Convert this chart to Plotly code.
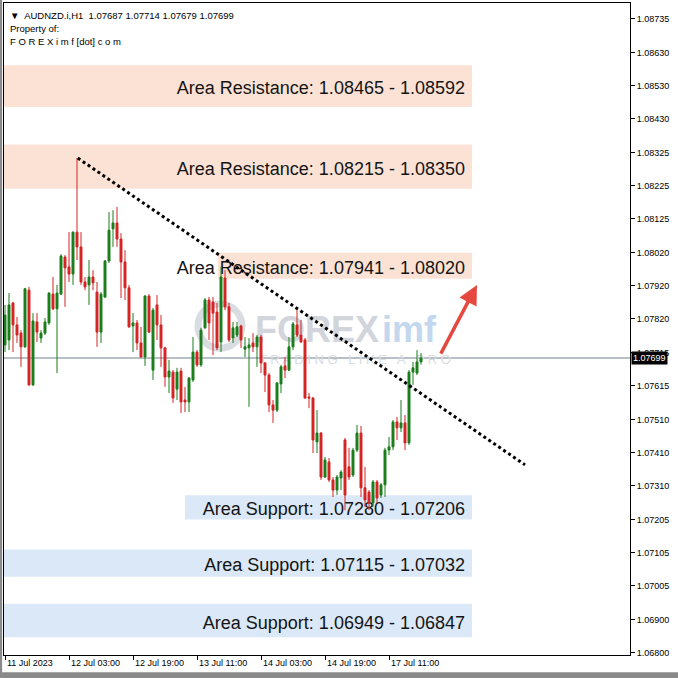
import plotly.graph_objects as go

# ---------------- data ----------------
bars = list(range(105))
opens = [1.07739,1.07754,1.07867,1.07800,1.07775,1.07733,1.07906,1.07617,1.07809,1.07760,
         1.07775,1.07806,1.07894,1.07849,1.07894,1.08007,1.07977,1.07955,1.08083,1.08038,
         1.07931,1.07922,1.07946,1.07900,1.07778,1.07885,1.07995,1.08093,1.08111,1.08062,
         1.07992,1.07913,1.07797,1.07806,1.07745,1.07702,1.07888,1.07662,1.07861,1.07800,
         1.07730,1.07641,1.07656,1.07604,1.07659,1.07571,1.07565,1.07632,1.07717,1.07678,
         1.07791,1.07876,1.07870,1.07839,1.07748,1.07943,1.07855,1.07760,1.07769,1.07797,
         1.07726,1.07730,1.07745,1.07733,1.07763,1.07684,1.07647,1.07556,1.07540,1.07620,
         1.07675,1.07662,1.07733,1.07800,1.07769,1.07754,1.07580,1.07577,1.07443,1.07470,
         1.07336,1.07382,1.07327,1.07296,1.07333,1.07449,1.07367,1.07342,1.07418,1.07470,
         1.07303,1.07290,1.07257,1.07321,1.07281,1.07312,1.07418,1.07428,1.07504,1.07486,
         1.07501,1.07440,1.07656,1.07653,1.07687]
highs = [1.07861,1.07897,1.07870,1.07824,1.07784,1.07913,1.07916,1.07836,1.07836,1.07784,
         1.07821,1.07900,1.07946,1.07922,1.08016,1.08013,1.08083,1.08085,1.08309,1.08083,
         1.07946,1.07998,1.07967,1.07931,1.07900,1.07998,1.08144,1.08150,1.08160,1.08080,
         1.08028,1.07922,1.07836,1.07815,1.07794,1.07891,1.07894,1.07852,1.07891,1.07830,
         1.07733,1.07693,1.07662,1.07669,1.07669,1.07611,1.07641,1.07763,1.07723,1.07791,
         1.07882,1.07885,1.07885,1.07867,1.07977,1.07967,1.07867,1.07809,1.07809,1.07800,
         1.07763,1.07760,1.07775,1.07769,1.07769,1.07687,1.07653,1.07571,1.07626,1.07678,
         1.07702,1.07763,1.07809,1.07852,1.07815,1.07760,1.07592,1.07580,1.07540,1.07473,
         1.07397,1.07394,1.07336,1.07342,1.07357,1.07455,1.07425,1.07425,1.07495,1.07492,
         1.07367,1.07296,1.07327,1.07327,1.07318,1.07425,1.07458,1.07510,1.07519,1.07571,
         1.07525,1.07662,1.07687,1.07723,1.07714]
lows = [1.07717,1.07723,1.07717,1.07745,1.07672,1.07730,1.07614,1.07614,1.07748,1.07745,
        1.07769,1.07800,1.07845,1.07653,1.07891,1.07855,1.07931,1.07922,1.07998,1.07922,
        1.07906,1.07861,1.07906,1.07733,1.07745,1.07882,1.07989,1.08038,1.08038,1.07882,
        1.07876,1.07791,1.07717,1.07723,1.07700,1.07675,1.07775,1.07632,1.07754,1.07672,
        1.07611,1.07592,1.07562,1.07571,1.07531,1.07534,1.07534,1.07626,1.07672,1.07672,
        1.07788,1.07754,1.07708,1.07723,1.07717,1.07845,1.07748,1.07745,1.07763,1.07730,
        1.07702,1.07550,1.07717,1.07672,1.07653,1.07595,1.07534,1.07501,1.07534,1.07592,
        1.07638,1.07659,1.07723,1.07763,1.07745,1.07574,1.07546,1.07409,1.07409,1.07327,
        1.07333,1.07321,1.07275,1.07281,1.07296,1.07235,1.07327,1.07336,1.07412,1.07275,
        1.07245,1.07235,1.07245,1.07257,1.07272,1.07275,1.07403,1.07418,1.07449,1.07473,
        1.07418,1.07434,1.07617,1.07647,1.07679]
closes = [1.07830,1.07861,1.07800,1.07769,1.07733,1.07910,1.07617,1.07812,1.07778,1.07775,
          1.07809,1.07897,1.07849,1.07897,1.08010,1.07974,1.07955,1.08083,1.08038,1.07931,
          1.07916,1.07946,1.07928,1.07778,1.07894,1.07995,1.08089,1.08111,1.08062,1.07992,
          1.07913,1.07794,1.07806,1.07745,1.07702,1.07888,1.07778,1.07845,1.07800,1.07730,
          1.07641,1.07659,1.07577,1.07656,1.07565,1.07565,1.07638,1.07717,1.07678,1.07784,
          1.07876,1.07806,1.07836,1.07730,1.07946,1.07855,1.07754,1.07791,1.07794,1.07754,
          1.07733,1.07739,1.07733,1.07763,1.07684,1.07647,1.07556,1.07540,1.07623,1.07672,
          1.07662,1.07733,1.07803,1.07769,1.07748,1.07577,1.07577,1.07449,1.07470,1.07336,
          1.07388,1.07327,1.07296,1.07336,1.07351,1.07281,1.07336,1.07418,1.07470,1.07303,
          1.07266,1.07257,1.07321,1.07272,1.07312,1.07418,1.07428,1.07504,1.07486,1.07501,
          1.07440,1.07656,1.07669,1.07687,1.07699]

time_tick_bars = [0, 16, 32, 48, 64, 80, 96]
time_tick_labels = ["11 Jul 2023", "12 Jul 03:00", "12 Jul 19:00", "13 Jul 11:00",
                    "14 Jul 03:00", "14 Jul 19:00", "17 Jul 11:00"]
price_ticks = [1.08735, 1.08630, 1.08530, 1.08430, 1.08325, 1.08225, 1.08125, 1.08020,
               1.07920, 1.07820, 1.07715, 1.07615, 1.07510, 1.07410, 1.07310, 1.07205,
               1.07105, 1.07005, 1.06900, 1.06800]

resistance_low = [1.08465, 1.08215, 1.07941]
resistance_high = [1.08592, 1.08350, 1.08020]
support_high = [1.07280, 1.07115, 1.06949]
support_low = [1.07206, 1.07032, 1.06847]

trend_bars = [18.2, 130.0]
trend_prices = [1.08309, 1.07373]

arrow_from = (108.75, 1.07708)
arrow_to = (118.0, 1.07922)

last_price = 1.07699
header = "▼  AUDNZD.i,H1  1.07687 1.07714 1.07679 1.07699"

# ---------------- figure ----------------
AX_FONT = "Liberation Sans, Arial, sans-serif"
GREEN = "#1a7d1a"
RED = "#d42424"

fig = go.Figure()
fig.add_trace(go.Candlestick(
    x=bars, open=opens, high=highs, low=lows, close=closes,
    increasing=dict(line=dict(color=GREEN, width=1), fillcolor=GREEN),
    decreasing=dict(line=dict(color=RED, width=1), fillcolor=RED),
    whiskerwidth=0, showlegend=False, hoverinfo="skip"))

fig.add_trace(go.Scatter(
    x=trend_bars, y=trend_prices, mode="lines",
    line=dict(color="black", width=3, dash="dot"),
    showlegend=False, hoverinfo="skip"))

shapes = []
X_LEFT, X_RIGHT = -0.25, 116.75
res_left = [X_LEFT, X_LEFT, 53.25]
sup_left = [45.0, X_LEFT, X_LEFT]
zone_font = dict(family=AX_FONT, size=18, color="#141414")
for lo, hi, xl in zip(resistance_low, resistance_high, res_left):
    shapes.append(dict(type="rect", xref="x", yref="y", x0=xl, x1=X_RIGHT, y0=lo, y1=hi,
                       fillcolor="#fbe2d5", line=dict(width=0), layer="below",
                       label=dict(text=f"Area Resistance: {lo:.5f} - {hi:.5f}",
                                  textposition="middle right", font=zone_font, padding=4)))
for hi, lo, xl in zip(support_high, support_low, sup_left):
    shapes.append(dict(type="rect", xref="x", yref="y", x0=xl, x1=X_RIGHT, y0=lo, y1=hi,
                       fillcolor="#dae8f7", line=dict(width=0), layer="below",
                       label=dict(text=f"Area Support: {hi:.5f} - {lo:.5f}",
                                  textposition="middle right", font=zone_font, padding=4)))

# watermark
shapes.append(dict(type="circle", xref="x", yref="y", x0=48.25, x1=59.25,
                   y0=1.07729, y1=1.07864, line=dict(color="#d9dce1", width=7), layer="below"))
shapes.append(dict(type="rect", xref="x", yref="y", x0=70, x1=86, y0=1.07760, y1=1.07830,
                   line=dict(width=0), layer="below",
                   label=dict(text="<b>FOREX</b>", textposition="middle center",
                              font=dict(family=AX_FONT, size=36, color="#d2d5db"))))
shapes.append(dict(type="rect", xref="x", yref="y", x0=96, x1=106, y0=1.07760, y1=1.07830,
                   line=dict(width=0), layer="below",
                   label=dict(text="<b>imf</b>", textposition="middle center",
                              font=dict(family=AX_FONT, size=36, color="#c3d8ee"))))
shapes.append(dict(type="rect", xref="x", yref="y", x0=80, x1=95, y0=1.07690, y1=1.07708,
                   line=dict(width=0), layer="below",
                   label=dict(text="T R A D I N G   L I K E   A   P R O", textposition="middle center",
                              font=dict(family=AX_FONT, size=13, color="#d9dce0"))))

# current price line
shapes.append(dict(type="line", xref="paper", yref="y", x0=0, x1=1, y0=last_price, y1=last_price,
                   line=dict(color="#71808f", width=1), layer="below"))

# window frame strips
shapes.append(dict(type="rect", xref="paper", yref="paper", x0=-0.01, x1=1.08, y0=-0.0365, y1=-0.0265,
                   fillcolor="#8a8a8a", line=dict(width=0), layer="above"))
shapes.append(dict(type="rect", xref="paper", yref="paper", x0=-0.0075, x1=-0.003, y0=-0.04, y1=1.01,
                   fillcolor="#8a8a8a", line=dict(width=0), layer="above"))

annotations = []
# time labels, left-aligned at their ticks
for b, t in zip(time_tick_bars, time_tick_labels):
    annotations.append(dict(x=b, y=0, xref="x", yref="paper", text=t, showarrow=False,
                            xanchor="left", yanchor="top", yshift=-1, xshift=0,
                            font=dict(family=AX_FONT, size=9, color="black")))
# header
annotations.append(dict(x=0.006, y=0.993, xref="paper", yref="paper", text=header, showarrow=False,
                        xanchor="left", yanchor="top", font=dict(family=AX_FONT, size=9.5, color="black")))
annotations.append(dict(x=0.006, y=0.973, xref="paper", yref="paper", text="Property of:", showarrow=False,
                        xanchor="left", yanchor="top", font=dict(family=AX_FONT, size=9.5, color="black")))
annotations.append(dict(x=0.006, y=0.953, xref="paper", yref="paper", text="F O R E X i m f [dot] c o m",
                        showarrow=False, xanchor="left", yanchor="top",
                        font=dict(family=AX_FONT, size=9.5, color="black")))
# arrow
annotations.append(dict(x=arrow_to[0], y=arrow_to[1], ax=arrow_from[0], ay=arrow_from[1],
                        xref="x", yref="y", axref="x", ayref="y", text="", showarrow=True,
                        arrowhead=2, arrowsize=1.1, arrowwidth=3.5, arrowcolor="#e5483f"))
# price label
annotations.append(dict(x=1, y=last_price, xref="paper", yref="y", text=f"{last_price:.5f}",
                        showarrow=False, xanchor="left", xshift=1, bgcolor="black", borderpad=1,
                        font=dict(family=AX_FONT, size=9, color="white")))

fig.update_layout(
    width=678, height=678,
    margin=dict(l=4, r=48, t=3, b=23),
    paper_bgcolor="white", plot_bgcolor="white",
    shapes=shapes, annotations=annotations, showlegend=False,
    xaxis=dict(range=[-0.25, 156.25], rangeslider=dict(visible=False),
               tickvals=time_tick_bars, ticktext=time_tick_labels, showticklabels=False,
               ticks="outside", ticklen=4, tickcolor="black", showgrid=False, zeroline=False,
               showline=True, linecolor="black", linewidth=1, mirror=True, fixedrange=True),
    yaxis=dict(range=[1.06793, 1.08782], side="right",
               tickvals=price_ticks, ticktext=[f"{v:.5f}" for v in price_ticks],
               ticks="outside", ticklen=4, tickcolor="black",
               tickfont=dict(family=AX_FONT, size=9, color="black"),
               showgrid=False, zeroline=False,
               showline=True, linecolor="black", linewidth=1, mirror=True, fixedrange=True),
)

fig.write_html("out.html", config={"displayModeBar": False},
               post_script="document.body.style.margin='0';document.body.style.overflow='hidden';")
